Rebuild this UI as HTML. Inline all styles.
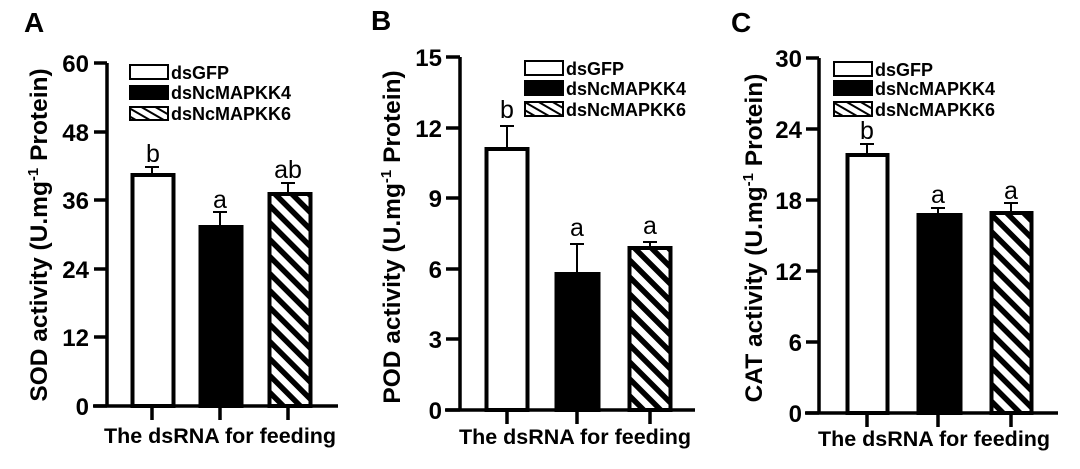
<!DOCTYPE html>
<html><head><meta charset="utf-8"><style>
html,body{margin:0;padding:0;background:#fff;}
svg{display:block;font-family:"Liberation Sans",Arial,sans-serif;}
.t{font-size:24px;font-weight:bold;text-anchor:end;}
.lg{font-size:18px;font-weight:bold;}
.lt{font-size:25px;text-anchor:middle;}
.xl{font-size:21.5px;font-weight:bold;text-anchor:middle;}
.yl{font-size:24.5px;font-weight:bold;text-anchor:middle;}
.pl{font-size:28px;font-weight:bold;}
</style></head><body>
<svg width="1080" height="469" viewBox="0 0 1080 469">
<defs>
<pattern id="h" width="12" height="12" patternUnits="userSpaceOnUse" patternTransform="rotate(45)">
<rect width="12" height="12" fill="#fff"/><rect width="12" height="5.5" fill="#000"/>
</pattern>
<pattern id="h2" width="7" height="7" patternUnits="userSpaceOnUse" patternTransform="rotate(30)">
<rect width="7" height="7" fill="#fff"/><rect width="7" height="2" fill="#000"/>
</pattern>
</defs>
<g stroke="#000" fill="none">

<!-- Panel A -->
<g>
<path d="M107 63V406M93 406H338" stroke-width="3.5"/>
<path d="M94 63H107M94 132H107M94 200H107M94 269H107M94 337H107M94 406H107" stroke-width="3.5"/>
<path d="M152 406V420M220 406V420M288 406V420" stroke-width="3.5"/>
<rect x="132.5" y="175" width="41" height="231" fill="#fff" stroke-width="4"/>
<rect x="200.5" y="227" width="41" height="179" fill="#000" stroke-width="4"/>
<rect x="269.5" y="194" width="41" height="212" fill="url(#h)" stroke-width="4"/>
<path d="M152 175V167M145 167H159M220 227V212M213 212H227M288 194V183M281 183H295" stroke-width="2"/>
<rect x="130" y="65" width="38" height="14" fill="#fff" stroke-width="2"/>
<rect x="130" y="86" width="38" height="13" fill="#000" stroke-width="2"/>
<rect x="130" y="107" width="38" height="13" fill="url(#h2)" stroke-width="2"/>
</g>

<!-- Panel B -->
<g>
<path d="M460 57V410M445 410H695" stroke-width="3.5"/>
<path d="M446 57H460M446 128H460M446 198H460M446 269H460M446 339H460M446 410H460" stroke-width="3.5"/>
<path d="M507 410V424M577 410V424M650 410V424" stroke-width="3.5"/>
<rect x="486.5" y="149" width="41" height="261" fill="#fff" stroke-width="4"/>
<rect x="556.5" y="274" width="42" height="136" fill="#000" stroke-width="4"/>
<rect x="629.5" y="248" width="41" height="162" fill="url(#h)" stroke-width="4"/>
<path d="M507 149V126M500 126H514M577 274V244M570 244H584M650 248V242M643 242H657" stroke-width="2"/>
<rect x="525" y="61" width="38" height="14" fill="#fff" stroke-width="2"/>
<rect x="525" y="81" width="38" height="14" fill="#000" stroke-width="2"/>
<rect x="525" y="102" width="38" height="14" fill="url(#h2)" stroke-width="2"/>
</g>

<!-- Panel C -->
<g>
<path d="M819 58V413M805 413H1058" stroke-width="3.5"/>
<path d="M806 58H819M806 129H819M806 200H819M806 271H819M806 342H819M806 413H819" stroke-width="3.5"/>
<path d="M867 413V427M938 413V427M1011 413V427" stroke-width="3.5"/>
<rect x="847.5" y="155" width="40" height="258" fill="#fff" stroke-width="4"/>
<rect x="918.5" y="215" width="42" height="198" fill="#000" stroke-width="4"/>
<rect x="991.5" y="213" width="40" height="200" fill="url(#h)" stroke-width="4"/>
<path d="M867 155V144M860 144H874M938 215V208M931 208H945M1011 213V203M1004 203H1018" stroke-width="2"/>
<rect x="834" y="62" width="38" height="14" fill="#fff" stroke-width="2"/>
<rect x="834" y="81" width="38" height="14" fill="#000" stroke-width="2"/>
<rect x="834" y="102" width="38" height="14" fill="url(#h2)" stroke-width="2"/>
</g>
</g>

<g fill="#000">
<!-- A texts -->
<text class="pl" x="24" y="32">A</text>
<text class="t" x="89" y="72">60</text><text class="t" x="89" y="141">48</text><text class="t" x="89" y="209">36</text>
<text class="t" x="89" y="278">24</text><text class="t" x="89" y="346">12</text><text class="t" x="89" y="415">0</text>
<text class="lg" x="171" y="79">dsGFP</text><text class="lg" x="171" y="99">dsNcMAPKK4</text><text class="lg" x="171" y="120">dsNcMAPKK6</text>
<text class="lt" x="153" y="162">b</text><text class="lt" x="220" y="208">a</text><text class="lt" x="288" y="178">ab</text>
<text class="xl" x="220" y="443">The dsRNA for feeding</text>
<text class="yl" transform="translate(47,235) rotate(-90)">SOD activity (U.mg<tspan font-size="15" dy="-9">-1</tspan><tspan dy="9"> Protein)</tspan></text>

<!-- B texts -->
<text class="pl" x="371" y="30">B</text>
<text class="t" x="442" y="66">15</text><text class="t" x="442" y="137">12</text><text class="t" x="442" y="207">9</text>
<text class="t" x="442" y="278">6</text><text class="t" x="442" y="348">3</text><text class="t" x="442" y="419">0</text>
<text class="lg" x="566" y="75">dsGFP</text><text class="lg" x="566" y="95">dsNcMAPKK4</text><text class="lg" x="566" y="116">dsNcMAPKK6</text>
<text class="lt" x="507" y="118">b</text><text class="lt" x="577" y="236">a</text><text class="lt" x="650" y="234">a</text>
<text class="xl" x="575" y="444">The dsRNA for feeding</text>
<text class="yl" transform="translate(400,237) rotate(-90)">POD activity (U.mg<tspan font-size="15" dy="-9">-1</tspan><tspan dy="9"> Protein)</tspan></text>

<!-- C texts -->
<text class="pl" x="731" y="32">C</text>
<text class="t" x="802" y="67">30</text><text class="t" x="802" y="138">24</text><text class="t" x="802" y="209">18</text>
<text class="t" x="802" y="280">12</text><text class="t" x="802" y="351">6</text><text class="t" x="802" y="422">0</text>
<text class="lg" x="875" y="76">dsGFP</text><text class="lg" x="875" y="95">dsNcMAPKK4</text><text class="lg" x="875" y="116">dsNcMAPKK6</text>
<text class="lt" x="867" y="139">b</text><text class="lt" x="938" y="203">a</text><text class="lt" x="1011" y="199">a</text>
<text class="xl" x="934" y="446">The dsRNA for feeding</text>
<text class="yl" transform="translate(762,238) rotate(-90)">CAT activity (U.mg<tspan font-size="15" dy="-9">-1</tspan><tspan dy="9"> Protein)</tspan></text>
</g>
</svg>
</body></html>
